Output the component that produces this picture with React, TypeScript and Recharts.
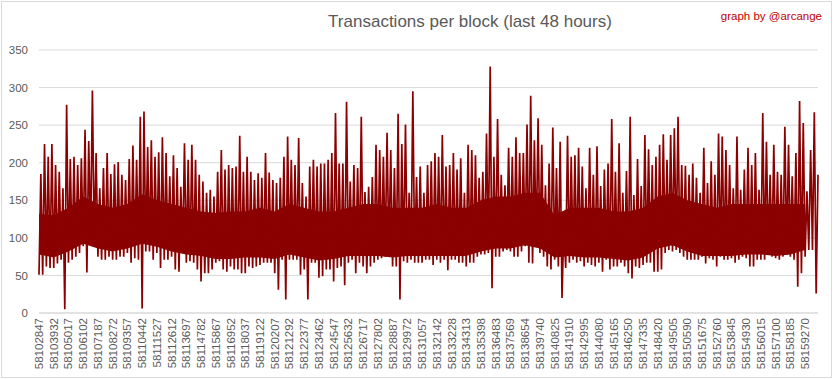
import React from 'react';
import { ComposedChart, Line, Area, XAxis, YAxis, CartesianGrid } from 'recharts';

const chartTitle = 'Transactions per block (last 48 hours)';
const creditText = 'graph by @arcange';

const tickLabels = [
  '58102847', '58103932', '58105017', '58106102', '58107187', '58108272', '58109357', '58110442',
  '58111527', '58112612', '58113697', '58114782', '58115867', '58116952', '58118037', '58119122',
  '58120207', '58121292', '58122377', '58123462', '58124547', '58125632', '58126717', '58127802',
  '58128887', '58129972', '58131057', '58132142', '58133228', '58134313', '58135398', '58136483',
  '58137569', '58138654', '58139740', '58140825', '58141910', '58142995', '58144080', '58145165',
  '58146250', '58147335', '58148420', '58149505', '58150590', '58151675', '58152760', '58153845',
  '58154930', '58156015', '58157100', '58158185', '58159270',
];

const yTicks = [0, 50, 100, 150, 200, 250, 300, 350];

// max transactions seen in each quarter of a label interval
const bucketHighs = [
  185, 225, 208, 225, 197, 188, 166, 277, 205, 208, 197, 206, 244, 229, 296, 213,
  166, 193, 213, 185, 198, 201, 184, 177, 205, 223,
  204, 261, 268, 221, 230, 208, 214, 234, 213, 182, 210, 193, 168, 226, 204, 224,
  204, 184, 175, 160, 164, 155, 188, 217, 191, 197,
  193, 195, 236, 188, 208, 188, 177, 186, 180, 213, 187, 177, 173, 180, 208, 235,
  204, 197, 233, 173, 155, 195, 204, 195, 199,
  199, 204, 213, 266, 199, 199, 281, 175, 197, 193, 261, 161, 168, 181, 224, 217,
  208, 240, 217, 193, 265, 225, 251, 160, 295, 181,
  195, 160, 197, 202, 213, 208, 237, 195, 197, 213, 191, 206, 160, 224, 217, 210,
  180, 188, 239, 328, 208, 258, 184, 170, 220, 208,
  234, 213, 213, 251, 289, 230, 259, 224, 170, 199, 247, 193, 228, 120, 236, 208,
  210, 220, 195, 166, 220, 184, 222, 169, 191, 199,
  258, 188, 226, 160, 189, 261, 157, 205, 169, 237, 218, 197, 208, 224, 238, 204,
  237, 246, 261, 197, 196, 184, 199, 180, 160,
  220, 173, 202, 184, 239, 235, 217, 197, 166, 235, 164, 191, 220, 197, 213, 164,
  266, 228, 184, 224, 188, 184, 248, 224, 182, 213, 282, 253, 162, 217, 267, 184,
];

// min transactions seen in each quarter of a label interval
const bucketLows = [
  51, 51, 62, 60, 60, 66, 71, 5, 67, 71, 75, 80, 89, 54, 95, 93,
  75, 71, 71, 75, 71, 71, 75, 75, 80, 67,
  73, 71, 6, 82, 82, 71, 80, 60, 71, 71, 75, 58, 55, 82, 67, 69,
  67, 58, 42, 53, 53, 58, 67, 69, 58, 55,
  62, 58, 58, 53, 53, 62, 60, 62, 64, 67, 67, 67, 53, 31, 71, 18,
  71, 71, 71, 51, 58, 18, 67, 67, 47,
  49, 58, 58, 42, 60, 62, 37, 67, 71, 53, 67, 62, 53, 62, 67, 71,
  73, 75, 78, 62, 62, 18, 69, 67, 71, 67,
  67, 67, 71, 71, 64, 71, 67, 71, 57, 71, 71, 67, 67, 62, 67, 67,
  75, 78, 78, 80, 33, 75, 75, 82, 84, 82,
  75, 75, 82, 89, 67, 66, 89, 80, 75, 62, 58, 71, 62, 20, 60, 67,
  71, 67, 69, 62, 67, 64, 62, 67, 55, 71,
  58, 62, 62, 67, 62, 53, 46, 62, 60, 64, 67, 67, 55, 55, 58, 80,
  84, 82, 84, 80, 75, 71, 71, 71, 71,
  75, 66, 73, 71, 62, 75, 71, 71, 73, 67, 71, 75, 73, 62, 62, 71,
  71, 71, 78, 75, 73, 71, 75, 78, 75, 71, 35, 53, 75, 84, 84, 26,
];

// dense core of the band at each labelled block (bottom, top)
const coreLows = [
  78, 74, 82, 92, 86, 82, 86, 92, 88, 82, 78, 76, 72, 72, 74, 74, 72, 78, 74, 70,
  72, 76, 76, 76, 74, 76, 76, 76, 76, 76, 82, 86, 86, 90, 86, 74, 76, 74, 74, 72,
  70, 74, 86, 90, 82, 76, 76, 76, 78, 78, 76, 78, 84,
];
const coreHighs = [
  132, 130, 140, 155, 145, 140, 145, 158, 150, 145, 140, 135, 133, 135, 135, 140, 135, 145, 140, 135,
  135, 140, 145, 145, 140, 140, 140, 145, 140, 140, 150, 155, 155, 160, 160, 130, 140, 140, 140, 135,
  135, 140, 155, 160, 150, 145, 140, 145, 145, 145, 145, 145, 145,
];

const BUCKETS_PER_LABEL = 4;

type Row = { cat: string; tx: number; core?: [number, number] };
const rows: Row[] = [];
bucketHighs.forEach((hi, i) => {
  const j = i / BUCKETS_PER_LABEL;
  const atLabel = Number.isInteger(j);
  rows.push({
    cat: `b${i}lo`,
    tx: bucketLows[i],
    core: atLabel ? [coreLows[j], coreHighs[j]] : undefined,
  });
  rows.push({ cat: `b${i}hi`, tx: hi });
});

const tickCats = tickLabels.map((_, j) => `b${j * BUCKETS_PER_LABEL}lo`);
const labelOf: Record<string, string> = {};
tickCats.forEach((c, j) => {
  labelOf[c] = tickLabels[j];
});

const FONT = '"Liberation Sans", Arial, sans-serif';
const GRAY = '#595959';
const GRID = '#d9d9d9';
const RED = '#8b0000';

const XTick = (props: any) => {
  const { x, y, payload } = props;
  return (
    <text
      x={x}
      y={y}
      transform={`rotate(-90 ${x} ${y})`}
      textAnchor="end"
      dominantBaseline="central"
      fill={GRAY}
      fontSize={11.5}
      fontFamily={FONT}
    >
      {labelOf[payload.value] ?? ''}
    </text>
  );
};

export default function App() {
  return (
    <div style={{ position: 'absolute', left: 0, top: 0, width: 833, height: 379, background: '#fff' }}>
      <ComposedChart
        width={833}
        height={379}
        data={rows}
        margin={{ top: 50, right: 15, bottom: 0, left: 0 }}
      >
        <CartesianGrid vertical={false} stroke={GRID} />
        <XAxis
          dataKey="cat"
          type="category"
          ticks={tickCats}
          interval={0}
          height={66}
          tickLine={false}
          tickSize={0}
          tickMargin={5}
          axisLine={{ stroke: GRID }}
          tick={<XTick />}
        />
        <YAxis
          domain={[0, 350]}
          ticks={yTicks}
          width={39}
          axisLine={false}
          tickLine={false}
          tickSize={0}
          tickMargin={11}
          tick={{ fill: GRAY, fontSize: 11.5, fontFamily: FONT }}
        />
        <Area
          dataKey="core"
          type="linear"
          stroke="none"
          fill={RED}
          fillOpacity={1}
          connectNulls
          dot={false}
          activeDot={false}
          isAnimationActive={false}
        />
        <Line
          dataKey="tx"
          type="linear"
          stroke={RED}
          strokeWidth={1.7}
          dot={false}
          activeDot={false}
          isAnimationActive={false}
        />
      </ComposedChart>
      <svg
        width={833}
        height={379}
        style={{ position: 'absolute', left: 0, top: 0, pointerEvents: 'none' }}
      >
        <rect x={1.5} y={1.5} width={830} height={376} fill="none" stroke={GRID} strokeWidth={1} />
        <text x={470} y={27} textAnchor="middle" fill={GRAY} fontSize={17} fontFamily={FONT}>
          {chartTitle}
        </text>
        <text x={822} y={19.5} textAnchor="end" fill="#c00000" fontSize={11.5} fontFamily={FONT}>
          {creditText}
        </text>
      </svg>
    </div>
  );
}
